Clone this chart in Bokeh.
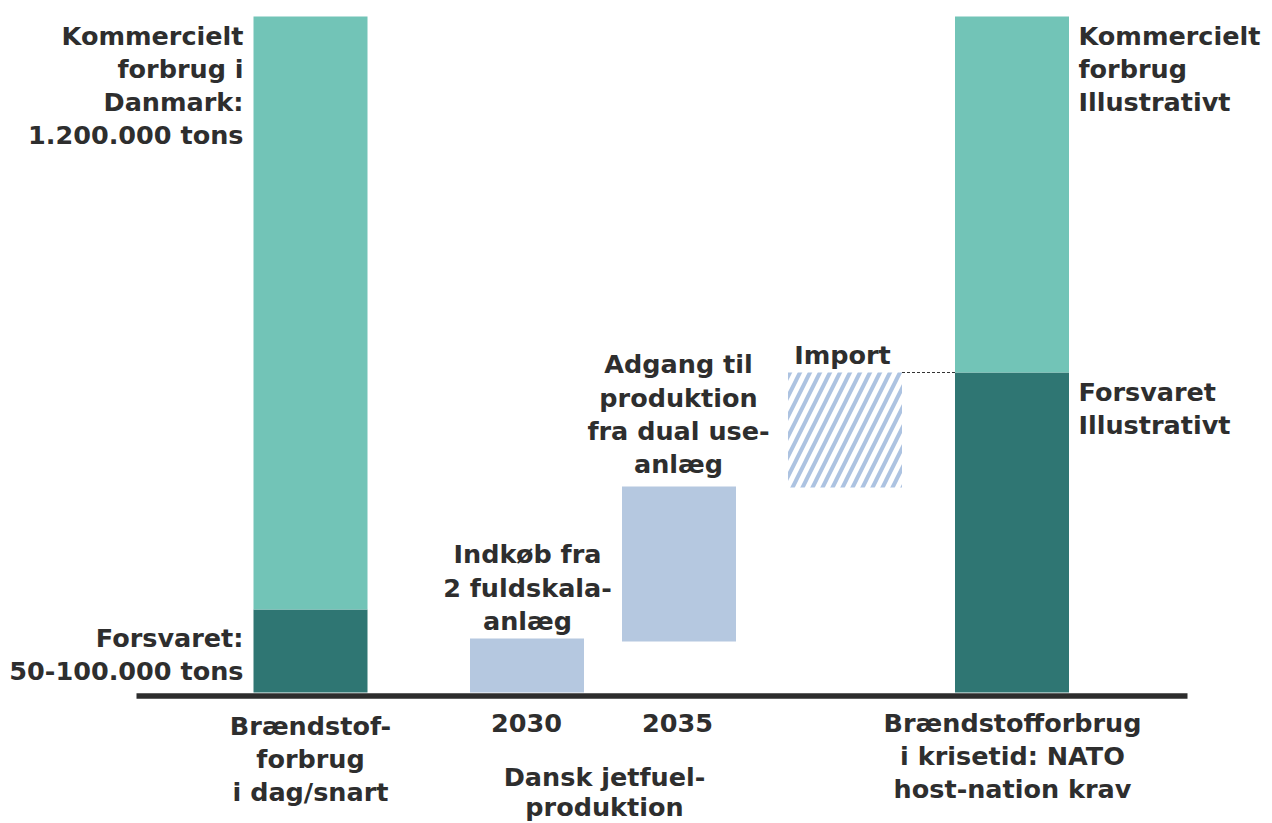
from bokeh.plotting import figure
from bokeh.models import Range1d, ColumnDataSource
from bokeh.core.properties import value
from bokeh.embed import file_html
from bokeh.resources import INLINE

# ---- data (illustrative units, baseline = 0) ----
bar_names = ["I dag", "2030", "2035", "Import", "Krisetid"]
bar_x = [310, 526.5, 678.5, 844.5, 1011.5]
forsvaret_idag = [0, 83]            # bottom, top
kommercielt_idag = [83, 676]
indkob_2030 = [0, 54]
dual_use_2035 = [51, 206]
import_bar = [205, 320]
forsvaret_krise = [0, 320]
kommercielt_krise = [320, 676]

LIGHT_TEAL = "#72C4B7"
DARK_TEAL = "#2F7673"
LIGHT_BLUE = "#B5C8E0"
TXT = "#2e2e2e"
FONT = "DejaVu Sans"
FS = "25.5px"

p = figure(width=1272, height=823, output_backend="svg", toolbar_location=None,
           x_range=Range1d(0, 1272), y_range=Range1d(-131, 692),
           min_border=0, outline_line_color=None)
p.axis.visible = False
p.grid.visible = False
p.background_fill_color = "white"

W = 114
# bar 1
p.vbar(x=[bar_x[0]], bottom=[forsvaret_idag[0]], top=[forsvaret_idag[1]], width=W,
       fill_color=DARK_TEAL, line_color=None)
p.vbar(x=[bar_x[0]], bottom=[kommercielt_idag[0]], top=[kommercielt_idag[1]], width=W,
       fill_color=LIGHT_TEAL, line_color=None)
# 2030
p.vbar(x=[bar_x[1]], bottom=[indkob_2030[0]], top=[indkob_2030[1]], width=W,
       fill_color=LIGHT_BLUE, line_color=None)
# 2035
p.vbar(x=[bar_x[2]], bottom=[dual_use_2035[0]], top=[dual_use_2035[1]], width=W,
       fill_color=LIGHT_BLUE, line_color=None)
# import (hatched)
p.vbar(x=[bar_x[3]], bottom=[import_bar[0]], top=[import_bar[1]], width=W,
       fill_color="white", line_color=None, hatch_pattern="/",
       hatch_color="#ADC3E1", hatch_scale=20, hatch_weight=4)
# last bar
p.vbar(x=[bar_x[4]], bottom=[forsvaret_krise[0]], top=[forsvaret_krise[1]], width=W,
       fill_color=DARK_TEAL, line_color=None)
p.vbar(x=[bar_x[4]], bottom=[kommercielt_krise[0]], top=[kommercielt_krise[1]], width=W,
       fill_color=LIGHT_TEAL, line_color=None)

# dashed connector
p.segment(x0=[bar_x[3] + W / 2], x1=[bar_x[4] - W / 2], y0=[import_bar[1]], y1=[import_bar[1]],
          line_color="#333333", line_width=1, line_dash="3 2")

# baseline
p.segment(x0=[136], x1=[1187], y0=[-3.5], y1=[-3.5], line_color="#2d2d2d", line_width=5.5)


def label(lines, x, y_centers, align):
    src = ColumnDataSource(dict(x=[x] * len(lines), y=y_centers, t=lines))
    p.text(x="x", y="y", text="t", source=src, text_align=align, text_baseline="middle",
           text_font=value(FONT), text_font_style="bold", text_font_size=FS,
           text_color=TXT)


def ys(pix_list):
    return [692 - v for v in pix_list]


label(["Kommercielt", "forbrug i", "Danmark:", "1.200.000 tons"], 243, ys([35, 68, 101, 134]), "right")
label(["Forsvaret:", "50-100.000 tons"], 243, ys([637, 670]), "right")
label(["Brændstof-", "forbrug", "i dag/snart"], 310, ys([725, 758, 791]), "center")
label(["2030"], 526, ys([722]), "center")
label(["2035"], 677, ys([722]), "center")
label(["Dansk jetfuel-", "produktion"], 604, ys([776, 806]), "center")
label(["Brændstofforbrug", "i krisetid: NATO", "host-nation krav"], 1012, ys([722, 755, 788]), "center")
label(["Indkøb fra", "2 fuldskala-", "anlæg"], 527, ys([553, 587, 620]), "center")
label(["Adgang til", "produktion", "fra dual use-", "anlæg"], 678, ys([363, 397, 430, 463]), "center")
label(["Import"], 842, ys([354]), "center")
label(["Kommercielt", "forbrug", "Illustrativt"], 1078, ys([35, 68, 101]), "left")
label(["Forsvaret", "Illustrativt"], 1078, ys([391, 424]), "left")

open("out.html", "w").write(file_html(p, INLINE))
